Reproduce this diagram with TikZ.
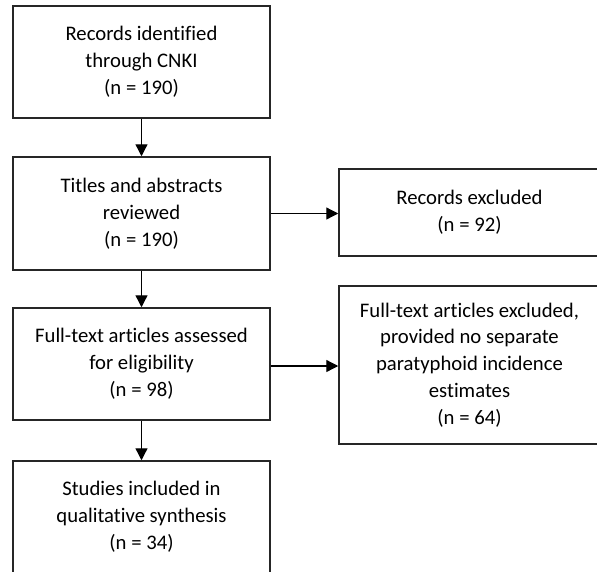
\documentclass[tikz,border=0pt]{standalone}
\usepackage{fontspec}
\setmainfont[Ligatures={NoCommon}]{Carlito}
\usetikzlibrary{arrows.meta}
\tikzset{
  box/.style={draw=black!85, line width=1.5pt, rectangle, align=center, inner sep=0pt,
    font=\fontsize{20.7}{26.8}\selectfont, text=black},
  conn/.style={draw=black, line width=1.3pt, -{Triangle[length=12pt,width=12pt]}}
}
\begin{document}
\begin{tikzpicture}[x=1pt,y=-1pt]
\clip (0,0) rectangle (597,571);
\fill[white] (0,0) rectangle (597,571);
\node[box, minimum width=257pt, minimum height=112pt] (b1) at (141.5,62) {Records identified\\through CNKI\\(n = 190)};
\node[box, minimum width=257pt, minimum height=113pt] (b2) at (141.5,213.5) {Titles and abstracts\\reviewed\\(n = 190)};
\node[box, minimum width=257pt, minimum height=112pt] (b3) at (141.5,364) {Full-text articles assessed\\for eligibility\\(n = 98)};
\node[box, minimum width=257pt, minimum height=112pt] (b4) at (141.5,517) {Studies included in\\qualitative synthesis\\(n = 34)};
\node[box, minimum width=261pt, minimum height=87pt] (bA) at (469.5,212.5) {Records excluded\\(n = 92)};
\node[box, minimum width=261pt, minimum height=158pt] (bB) at (469.5,365) {Full-text articles excluded,\\provided no separate\\paratyphoid incidence\\estimates\\(n = 64)};
\draw[conn] (b1.south) -- (b2.north);
\draw[conn] (b2.south) -- (b3.north);
\draw[conn] (b3.south) -- (b4.north);
\draw[conn] (b2.east) -- (b2.east -| bA.west);
\draw[conn] ([yshift=-2pt]b3.east) -- ([yshift=-2pt]b3.east -| bB.west);
\end{tikzpicture}
\end{document}
